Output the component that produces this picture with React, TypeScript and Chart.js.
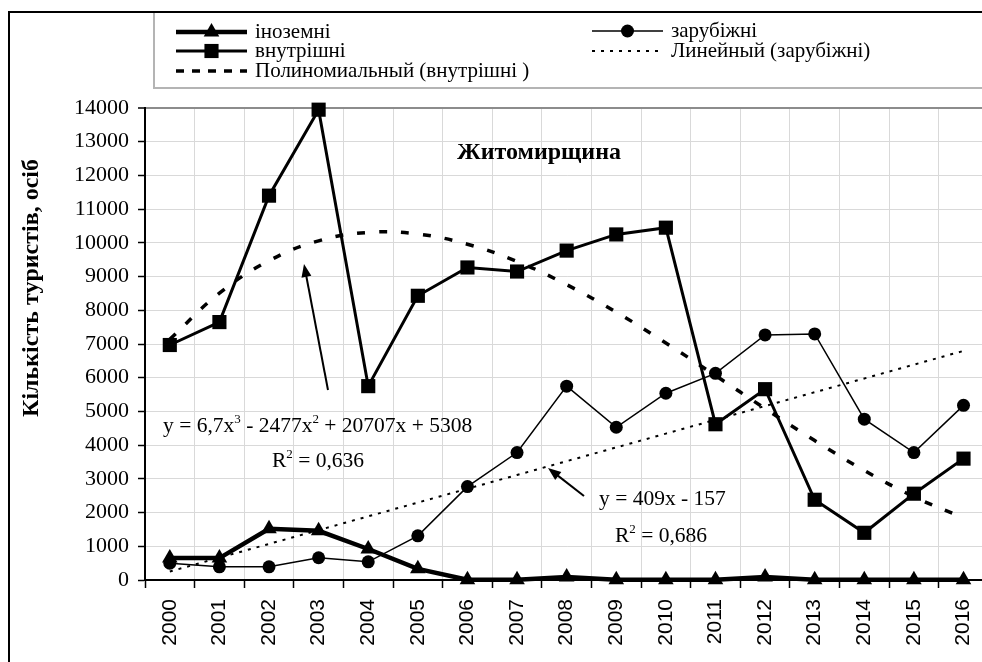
import React, { useEffect, useRef } from "react";
import { Chart, registerables } from "chart.js";

Chart.register(...registerables);

// ---------- data ----------
const years = ["2000", "2001", "2002", "2003", "2004", "2005", "2006", "2007", "2008", "2009", "2010", "2011", "2012", "2013", "2014", "2015", "2016"];
const foreignTourists = [650, 650, 1520, 1460, 920, 330, 10, 10, 90, 10, 10, 10, 90, 10, 10, 10, 10]; // іноземні
const domesticTourists = [6970, 7650, 11400, 13950, 5750, 8430, 9270, 9150, 9770, 10250, 10450, 4620, 5660, 2380, 1400, 2560, 3600]; // внутрішні
const abroadTourists = [500, 390, 390, 660, 540, 1310, 2770, 3780, 5750, 4530, 5540, 6130, 7270, 7300, 4770, 3780, 5180]; // зарубіжні
const linearTrendAbroad = [252, 661, 1070, 1479, 1888, 2297, 2706, 3115, 3524, 3933, 4342, 4751, 5160, 5569, 5978, 6387, 6796];
const polyTrendDomestic = [7140, 8510, 9470, 10060, 10310, 10260, 9960, 9450, 8760, 7945, 7030, 6065, 5085, 4135, 3250, 2470, 1840];
const yMin = 0;
const yMax = 14000;
const yStep = 1000;

const seriesNames = {
  foreign: "іноземні",
  domestic: "внутрішні",
  abroad: "зарубіжні",
  linear: "Линейный (зарубіжні)",
  poly: "Полиномиальный (внутрішні )",
};
const chartTitle = "Житомирщина";
const yAxisTitle = "Кількість туристів, осіб";

const SERIF = '"Liberation Serif", "Times New Roman", serif';
const SANS = '"Liberation Sans", Arial, sans-serif';

function drawMarker(ctx: CanvasRenderingContext2D, kind: string, x: number, y: number, r: number) {
  ctx.beginPath();
  if (kind === "triangle") {
    ctx.moveTo(x, y - r);
    ctx.lineTo(x + r * 0.866, y + r * 0.5);
    ctx.lineTo(x - r * 0.866, y + r * 0.5);
    ctx.closePath();
  } else if (kind === "rect") {
    const s = r * Math.SQRT1_2;
    ctx.rect(x - s, y - s, 2 * s, 2 * s);
  } else {
    ctx.arc(x, y, r, 0, Math.PI * 2);
  }
  ctx.fill();
}

function drawRich(ctx: CanvasRenderingContext2D, parts: [string, boolean][], x: number, y: number, size: number, supSize: number, raise: number) {
  let cx = x;
  ctx.textBaseline = "alphabetic";
  ctx.textAlign = "left";
  for (const [t, sup] of parts) {
    ctx.font = `${sup ? supSize : size}px ${SERIF}`;
    ctx.fillText(t, cx, sup ? y - raise : y);
    cx += ctx.measureText(t).width;
  }
}

function arrow(ctx: CanvasRenderingContext2D, x1: number, y1: number, x2: number, y2: number) {
  const ang = Math.atan2(y2 - y1, x2 - x1);
  const hl = 13, hw = 5;
  ctx.strokeStyle = "#000";
  ctx.fillStyle = "#000";
  ctx.lineWidth = 2;
  ctx.setLineDash([]);
  ctx.beginPath();
  ctx.moveTo(x1, y1);
  ctx.lineTo(x2 - Math.cos(ang) * hl * 0.8, y2 - Math.sin(ang) * hl * 0.8);
  ctx.stroke();
  ctx.beginPath();
  ctx.moveTo(x2, y2);
  ctx.lineTo(x2 - Math.cos(ang) * hl - Math.sin(ang) * hw, y2 - Math.sin(ang) * hl + Math.cos(ang) * hw);
  ctx.lineTo(x2 - Math.cos(ang) * hl + Math.sin(ang) * hw, y2 - Math.sin(ang) * hl - Math.cos(ang) * hw);
  ctx.closePath();
  ctx.fill();
}

const decorPlugin = {
  id: "decor",
  afterDraw(chart: any) {
    const ctx: CanvasRenderingContext2D = chart.ctx;
    ctx.save();
    // outer chart border
    ctx.strokeStyle = "#000";
    ctx.lineWidth = 2;
    ctx.setLineDash([]);
    ctx.strokeRect(9, 12, 1400, 1400);

    // legend box
    ctx.strokeStyle = "#b4b4b4";
    ctx.lineWidth = 2;
    ctx.beginPath();
    ctx.moveTo(154, 13);
    ctx.lineTo(154, 88);
    ctx.lineTo(1000, 88);
    ctx.stroke();

    // legend entries
    const legendFont = `21px ${SERIF}`;
    const entry = (x0: number, x1: number, y: number, lw: number, dash: number[], marker: string | null, mr: number, label: string) => {
      ctx.strokeStyle = "#000";
      ctx.fillStyle = "#000";
      ctx.lineWidth = lw;
      ctx.setLineDash(dash);
      ctx.beginPath();
      ctx.moveTo(x0, y);
      ctx.lineTo(x1, y);
      ctx.stroke();
      ctx.setLineDash([]);
      if (marker) drawMarker(ctx, marker, (x0 + x1) / 2, y, mr);
      ctx.font = legendFont;
      ctx.textAlign = "left";
      ctx.textBaseline = "middle";
      ctx.fillText(label, x1 + 8, y);
    };
    entry(176, 247, 32, 4.5, [], "triangle", 9, seriesNames.foreign);
    entry(176, 247, 51, 3, [], "rect", 10, seriesNames.domestic);
    entry(176, 247, 71, 3.5, [8, 8], null, 0, seriesNames.poly);
    entry(592, 663, 31, 1.5, [], "circle", 6.5, seriesNames.abroad);
    entry(592, 663, 51, 2, [3, 6], null, 0, seriesNames.linear);

    // chart title inside plot
    ctx.fillStyle = "#000";
    ctx.font = `bold 24px ${SERIF}`;
    ctx.textAlign = "left";
    ctx.textBaseline = "middle";
    ctx.fillText(chartTitle, 457, 153);

    // y axis title
    ctx.save();
    ctx.translate(32, 288);
    ctx.rotate(-Math.PI / 2);
    ctx.font = `bold 24px ${SERIF}`;
    ctx.textAlign = "center";
    ctx.textBaseline = "middle";
    ctx.fillText(yAxisTitle, 0, 0);
    ctx.restore();

    // trendline equations
    ctx.fillStyle = "#000";
    drawRich(ctx, [["y = 6,7x", false], ["3", true], [" - 2477x", false], ["2", true], [" + 20707x + 5308", false]], 163, 432, 21.5, 13, 9);
    drawRich(ctx, [["R", false], ["2", true], [" = 0,636", false]], 272, 467, 21.5, 13, 9);
    drawRich(ctx, [["y = 409x - 157", false]], 599, 505, 21.5, 13, 9);
    drawRich(ctx, [["R", false], ["2", true], [" = 0,686", false]], 615, 542, 21.5, 13, 9);

    arrow(ctx, 328, 390, 304, 264);
    arrow(ctx, 584, 496, 548, 468);
    ctx.restore();
  },
};

export default function App() {
  const ref = useRef<HTMLCanvasElement>(null);
  useEffect(() => {
    const canvas = ref.current;
    if (!canvas) return;
    const chart = new Chart(canvas, {
      type: "line",
      data: {
        labels: years,
        datasets: [
          {
            label: seriesNames.foreign,
            data: foreignTourists,
            borderColor: "#000",
            backgroundColor: "#000",
            borderWidth: 4.5,
            pointStyle: "triangle",
            pointRadius: 9,
            pointBackgroundColor: "#000",
            pointBorderColor: "#000",
            pointBorderWidth: 0,
            tension: 0,
            clip: false,
          },
          {
            label: seriesNames.domestic,
            data: domesticTourists,
            borderColor: "#000",
            backgroundColor: "#000",
            borderWidth: 3,
            pointStyle: "rect",
            pointRadius: 10,
            pointBackgroundColor: "#000",
            pointBorderColor: "#000",
            pointBorderWidth: 0,
            tension: 0,
            clip: false,
          },
          {
            label: seriesNames.abroad,
            data: abroadTourists,
            borderColor: "#000",
            backgroundColor: "#000",
            borderWidth: 1.5,
            pointStyle: "circle",
            pointRadius: 6.5,
            pointBackgroundColor: "#000",
            pointBorderColor: "#000",
            pointBorderWidth: 0,
            tension: 0,
            clip: false,
          },
          {
            label: seriesNames.linear,
            data: linearTrendAbroad,
            borderColor: "#000",
            borderWidth: 2,
            borderDash: [3, 6],
            pointRadius: 0,
            tension: 0,
            clip: false,
          },
          {
            label: seriesNames.poly,
            data: polyTrendDomestic,
            borderColor: "#000",
            borderWidth: 3.5,
            borderDash: [8, 14],
            pointRadius: 0,
            tension: 0.4,
            clip: false,
          },
        ],
      },
      options: {
        responsive: false,
        animation: false,
        events: [],
        layout: { padding: { left: 0, top: 108, right: 4, bottom: 0 } },
        plugins: {
          legend: { display: false },
          title: { display: false },
          tooltip: { enabled: false },
        },
        scales: {
          x: {
            type: "category",
            offset: true,
            grid: {
              offset: true,
              color: "#d9d9d9",
              lineWidth: 1,
              tickLength: 8,
              tickColor: "#000",
              tickWidth: 1.5,
            },
            border: { color: "#000", width: 2 },
            ticks: {
              autoSkip: false,
              minRotation: 90,
              maxRotation: 90,
              padding: 11,
              color: "#000",
              font: { family: SANS, size: 21 },
            },
            afterFit: (s: any) => {
              s.height = 82;
            },
          },
          y: {
            min: yMin,
            max: yMax,
            grid: {
              color: (c: any) => (c.tick && c.tick.value === yMax ? "#8c8c8c" : "#d9d9d9"),
              lineWidth: (c: any) => (c.tick && c.tick.value === yMax ? 2 : 1),
              tickLength: 7,
              tickColor: "#000",
              tickWidth: 1.5,
            },
            border: { color: "#000", width: 2 },
            ticks: {
              stepSize: yStep,
              padding: 9,
              color: "#000",
              font: { family: SERIF, size: 22 },
              callback: (v: any) => String(v),
            },
            afterFit: (s: any) => {
              s.width = 145;
            },
          },
        },
      },
      plugins: [decorPlugin],
    } as any);
    return () => chart.destroy();
  }, []);

  return (
    <div style={{ position: "fixed", left: 0, top: 0, width: 982, height: 662, overflow: "hidden", background: "#fff" }}>
      <canvas ref={ref} width={1000} height={662} style={{ display: "block", width: 1000, height: 662 }} />
    </div>
  );
}
